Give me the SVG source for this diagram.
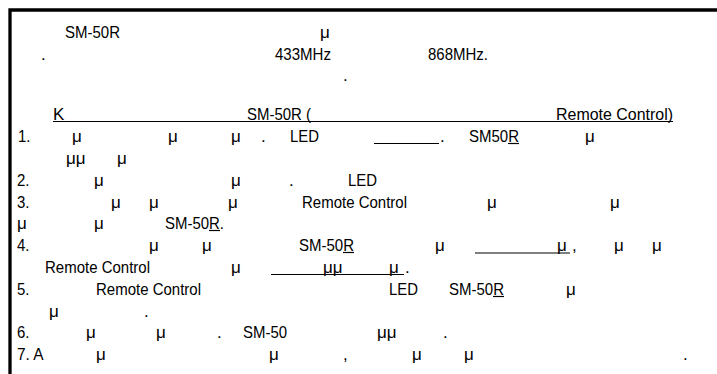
<svg xmlns="http://www.w3.org/2000/svg" width="717" height="374" viewBox="0 0 717 374">
<style>
.t{font-family:"Liberation Sans",Arial,sans-serif;font-size:17px;fill:#000}
.u{stroke:#000;stroke-width:1.2;fill:none}
</style>
<rect width="717" height="374" fill="#fff"/>
<path d="M10 380 V10 H730" fill="none" stroke="#000" stroke-width="3.3"/>
<g id="text">
<text class="t" x="65" y="38" textLength="55" lengthAdjust="spacingAndGlyphs">SM-50R</text>
<text class="t" x="320" y="38">μ</text>
<text class="t" x="41" y="60">.</text>
<text class="t" x="275" y="60" textLength="56" lengthAdjust="spacingAndGlyphs">433MHz</text>
<text class="t" x="428" y="60" textLength="60" lengthAdjust="spacingAndGlyphs">868MHz.</text>
<text class="t" x="343" y="81">.</text>

<text class="t" x="53" y="119.5">K</text>
<text class="t" x="247" y="119.5" textLength="64" lengthAdjust="spacingAndGlyphs">SM-50R (</text>
<text class="t" x="556" y="119.5" textLength="117" lengthAdjust="spacingAndGlyphs">Remote Control)</text>
<line class="u" x1="53" y1="121.5" x2="673" y2="121.5"/>

<text class="t" x="18" y="142" textLength="12.5" lengthAdjust="spacingAndGlyphs">1.</text>
<text class="t" x="72" y="142">μ</text>
<text class="t" x="168" y="142">μ</text>
<text class="t" x="231" y="142">μ</text>
<text class="t" x="261" y="142">.</text>
<text class="t" x="290" y="142" textLength="29" lengthAdjust="spacingAndGlyphs">LED</text>
<line class="u" x1="374" y1="143.5" x2="439" y2="143.5"/>
<text class="t" x="440" y="142">.</text>
<text class="t" x="469" y="142" textLength="50" lengthAdjust="spacingAndGlyphs">SM50R</text>
<line class="u" x1="508" y1="143.5" x2="519" y2="143.5"/>
<text class="t" x="585" y="142">μ</text>

<text class="t" x="66" y="164">μμ</text>
<text class="t" x="117" y="164">μ</text>

<text class="t" x="17" y="186" textLength="12.5" lengthAdjust="spacingAndGlyphs">2.</text>
<text class="t" x="94" y="186">μ</text>
<text class="t" x="231" y="186">μ</text>
<text class="t" x="289" y="186">.</text>
<text class="t" x="348" y="186" textLength="29" lengthAdjust="spacingAndGlyphs">LED</text>

<text class="t" x="17" y="207.5" textLength="12.5" lengthAdjust="spacingAndGlyphs">3.</text>
<text class="t" x="111" y="207.5">μ</text>
<text class="t" x="149" y="207.5">μ</text>
<text class="t" x="228" y="207.5">μ</text>
<text class="t" x="302" y="207.5" textLength="105" lengthAdjust="spacingAndGlyphs">Remote Control</text>
<text class="t" x="487" y="207.5">μ</text>
<text class="t" x="610" y="207.5">μ</text>

<text class="t" x="17" y="229">μ</text>
<text class="t" x="94" y="229">μ</text>
<text class="t" x="165" y="229" textLength="59" lengthAdjust="spacingAndGlyphs">SM-50R.</text>
<line class="u" x1="209" y1="230.5" x2="220" y2="230.5"/>

<text class="t" x="17" y="251" textLength="12.5" lengthAdjust="spacingAndGlyphs">4.</text>
<text class="t" x="149" y="251">μ</text>
<text class="t" x="202" y="251">μ</text>
<text class="t" x="299" y="251" textLength="55" lengthAdjust="spacingAndGlyphs">SM-50R</text>
<line class="u" x1="343" y1="252.5" x2="354" y2="252.5"/>
<text class="t" x="435" y="251">μ</text>
<line class="u" x1="475" y1="253" x2="570" y2="253"/>
<text class="t" x="557" y="251">μ</text>
<text class="t" x="572" y="251">,</text>
<text class="t" x="614" y="251">μ</text>
<text class="t" x="652" y="251">μ</text>

<text class="t" x="45" y="273" textLength="105" lengthAdjust="spacingAndGlyphs">Remote Control</text>
<text class="t" x="231" y="273">μ</text>
<line class="u" x1="271" y1="274.5" x2="404" y2="274.5"/>
<text class="t" x="323" y="273">μμ</text>
<text class="t" x="389" y="273">μ</text>
<text class="t" x="405" y="273">.</text>

<text class="t" x="17" y="295" textLength="12.5" lengthAdjust="spacingAndGlyphs">5.</text>
<text class="t" x="96" y="295" textLength="105" lengthAdjust="spacingAndGlyphs">Remote Control</text>
<text class="t" x="389" y="295" textLength="29" lengthAdjust="spacingAndGlyphs">LED</text>
<text class="t" x="449" y="295" textLength="55" lengthAdjust="spacingAndGlyphs">SM-50R</text>
<line class="u" x1="493" y1="296.5" x2="504" y2="296.5"/>
<text class="t" x="566" y="295">μ</text>

<text class="t" x="49" y="316.5">μ</text>
<text class="t" x="144" y="316.5">.</text>

<text class="t" x="17" y="338" textLength="12.5" lengthAdjust="spacingAndGlyphs">6.</text>
<text class="t" x="86" y="338">μ</text>
<text class="t" x="156" y="338">μ</text>
<text class="t" x="217" y="338">.</text>
<text class="t" x="243" y="338" textLength="44" lengthAdjust="spacingAndGlyphs">SM-50</text>
<text class="t" x="377" y="338">μμ</text>
<text class="t" x="443" y="338">.</text>

<text class="t" x="17" y="360" textLength="26.6" lengthAdjust="spacingAndGlyphs">7. A</text>
<text class="t" x="96" y="360">μ</text>
<text class="t" x="269" y="360">μ</text>
<text class="t" x="343" y="360">,</text>
<text class="t" x="412" y="360">μ</text>
<text class="t" x="464" y="360">μ</text>
<text class="t" x="683" y="360">.</text>
</g>
</svg>
